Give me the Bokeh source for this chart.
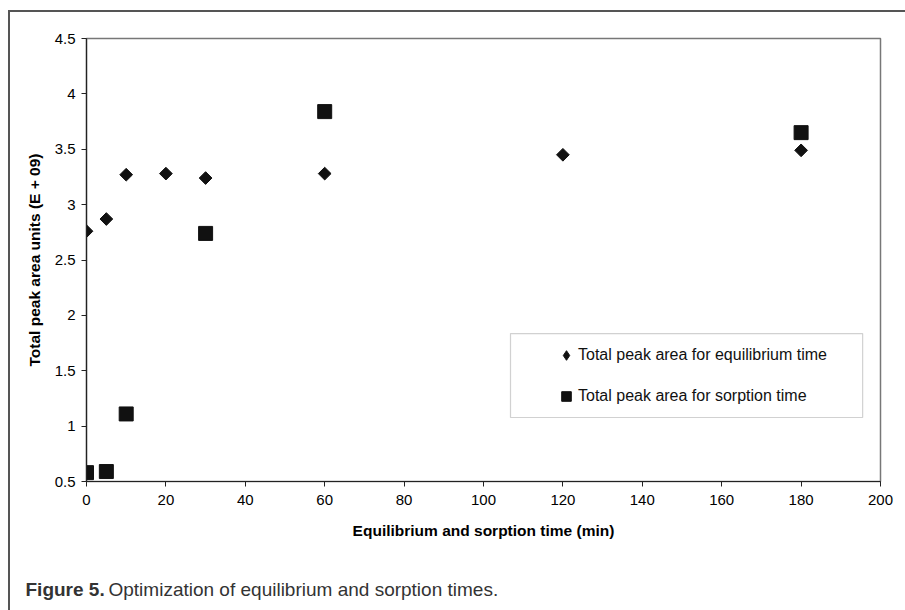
from bokeh.plotting import figure
from bokeh.layouts import column
from bokeh.models import (FixedTicker, CustomJSTickFormatter, BoxAnnotation,
                          Legend, LegendItem, Range1d)
from bokeh.core.properties import value
from bokeh.embed import file_html
from bokeh.resources import INLINE
import math

# data
eq_time = [0, 5, 10, 20, 30, 60, 120, 180]
eq_area = [2.76, 2.87, 3.27, 3.28, 3.24, 3.28, 3.45, 3.49]
so_time = [0, 5, 10, 30, 60, 180]
so_area = [0.58, 0.59, 1.11, 2.74, 3.84, 3.65]
x_ticks = [0, 20, 40, 60, 80, 100, 120, 140, 160, 180, 200]
y_ticks = [0.5, 1, 1.5, 2, 2.5, 3, 3.5, 4, 4.5]
legend_labels = ["Total peak area for equilibrium time", "Total peak area for sorption time"]
x_label = "Equilibrium and sorption time (min)"
y_label = "Total peak area units (E + 09)"
caption_bold = "Figure 5."
caption_text = "Optimization of equilibrium and sorption times."

FONT = "'Liberation Sans', Arial, sans-serif"
CAP_FONT = "'Liberation Sans Narrow', 'Liberation Sans', sans-serif"

p = figure(width=895, height=530, x_range=(0, 200), y_range=(0.5, 4.5),
           output_backend="svg", toolbar_location=None,
           min_border_left=76, min_border_right=25, min_border_top=26, min_border_bottom=61)
p.frame_align = False
p.xgrid.visible = False
p.ygrid.visible = False
p.outline_line_color = "#777777"
p.outline_line_width = 1.5
p.background_fill_color = "white"
p.border_fill_color = "white"

for ax in (p.xaxis[0], p.yaxis[0]):
    ax.axis_line_color = "#222222"
    ax.axis_line_width = 1.2
    ax.major_tick_line_color = "#222222"
    ax.major_tick_out = 5
    ax.major_tick_in = 0
    ax.minor_tick_line_color = None
    ax.major_label_text_font = FONT
    ax.major_label_text_font_size = "15px"
    ax.major_label_text_color = "#000000"
    ax.axis_label_text_font = FONT
    ax.axis_label_text_font_size = "15.5px"
    ax.axis_label_text_font_style = "bold"
    ax.axis_label_text_color = "#000000"

p.xaxis.ticker = FixedTicker(ticks=x_ticks)
p.yaxis.ticker = FixedTicker(ticks=y_ticks)
p.yaxis.formatter = CustomJSTickFormatter(code="return String(Math.round(tick*10)/10);")
p.xaxis.formatter = CustomJSTickFormatter(code="return String(tick);")
p.xaxis.axis_label = x_label
p.yaxis.axis_label = y_label
p.xaxis.major_label_standoff = 8
p.xaxis.axis_label_standoff = 14
p.yaxis.major_label_standoff = 6
p.yaxis.axis_label_standoff = 9

# legend key glyph for the diamond series (drawn under the rotated squares)
r_eq_key = p.scatter(eq_time, eq_area, marker="diamond", size=8, color="#111111")
r_eq = p.scatter(eq_time, eq_area, marker="square", size=9, angle=math.pi / 4,
                 color="#111111")
r_so = p.scatter(so_time, so_area, marker="square", size=14, color="#111111")

# legend box
box = BoxAnnotation(left=106.8, right=195.5, bottom=1.078, top=1.836,
                    fill_color=None, line_color="#666666", line_width=1.2)
p.add_layout(box)

legend = Legend(items=[LegendItem(label=legend_labels[0], renderers=[r_eq_key]),
                       LegendItem(label=legend_labels[1], renderers=[r_so])],
                location=(468, 73), orientation="vertical")
legend.border_line_color = None
legend.background_fill_alpha = 0
legend.padding = 0
legend.spacing = 17
legend.glyph_width = 24
legend.glyph_height = 24
legend.label_standoff = 0
legend.label_text_font = FONT
legend.label_text_font_size = "16px"
legend.label_text_color = "#111111"
legend.margin = 0
p.add_layout(legend)

# caption strip
c = figure(width=895, height=68, x_range=Range1d(0, 895), y_range=Range1d(68, 0),
           output_backend="svg", toolbar_location=None,
           x_axis_type=None, y_axis_type=None, min_border=0)
c.frame_align = False
c.xgrid.visible = False
c.ygrid.visible = False
c.outline_line_color = None
c.background_fill_color = "white"
c.border_fill_color = "white"
c.text(x=[15], y=[47], text=[caption_bold], text_font=value(CAP_FONT),
       text_font_size="19px", text_font_style="bold", text_color="#333333",
       text_baseline="alphabetic")
c.text(x=[98], y=[47], text=[caption_text], text_font=value(CAP_FONT),
       text_font_size="19px", text_color="#333333", text_baseline="alphabetic")

layout = column(p, c, spacing=0)
layout.styles = {"margin-left": "8px", "margin-top": "10px",
                 "border-top": "2px solid #555", "border-left": "2px solid #555"}

open("out.html", "w").write(file_html(layout, INLINE))
